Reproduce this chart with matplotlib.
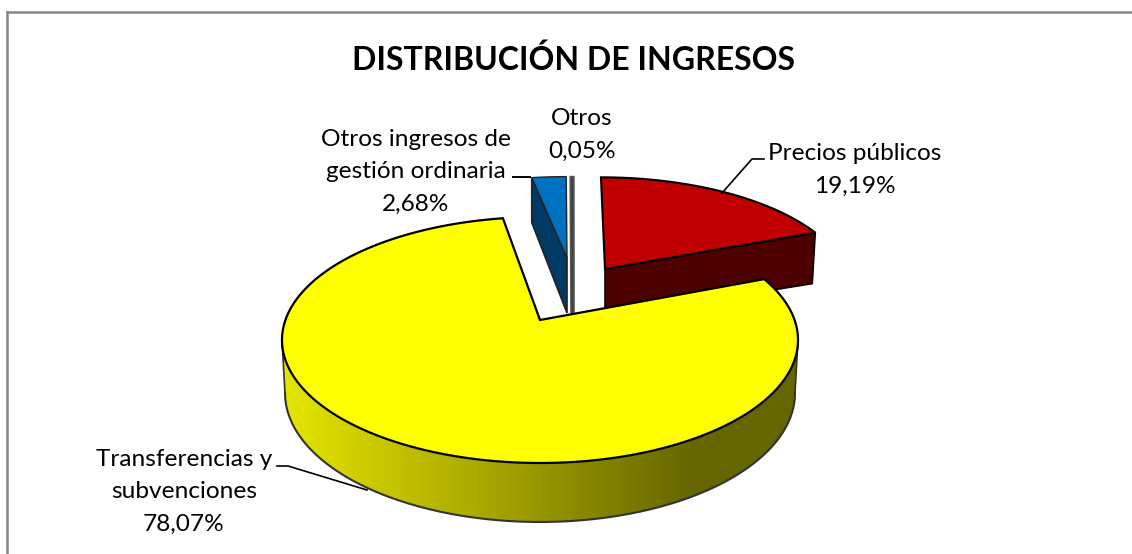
import numpy as np
import matplotlib
matplotlib.use("Agg")
import matplotlib.pyplot as plt
from matplotlib.colors import LinearSegmentedColormap
from matplotlib.patches import Polygon

plt.rcParams['font.family'] = ['Lato', 'DejaVu Sans']

title = "DISTRIBUCIÓN DE INGRESOS"
labels = ["Precios públicos", "Transferencias y\nsubvenciones",
          "Otros ingresos de\ngestión ordinaria", "Otros"]
shares = [19.19, 78.07, 2.68, 0.05]
topColors = ["#c00000", "#ffff00", "#0070c0", "#7f7f7f"]
sideColors = ["#4d0000", "#666600", "#003a66", "#404040"]

# pie geometry in pixels
centerX, centerY = 540, 340
radiusX, radiusY = 258, 123
apexY = 320
tilt = 0.477
sliceOffset = [(65, -51), (0, 0), (27, -62), (31, -62)]
sliceScale = [(0.945, 0.89), (1, 1), (0.95, 0.79), (0.92, 0.79)]
sliceLean = [0.044, 0, 0, 0]
sliceDepth = [48, 55, 55, 55]


def rimPoint(theta):
    # offset from the apex of the point where a ray at clock angle theta meets the ellipse
    t = np.radians(theta)
    a0 = (centerY - apexY) / radiusY
    dx = np.sin(t) / radiusX
    dy = tilt * np.cos(t) / radiusY
    a = dx * dx + dy * dy
    b = 2 * a0 * dy
    c = a0 * a0 - 1
    s = (-b + np.sqrt(b * b - 4 * a * c)) / (2 * a)
    return s * dx * radiusX, -s * dy * radiusY


def sliceTop(i, start, sweep):
    x0 = centerX + sliceOffset[i][0]
    y0 = apexY + sliceOffset[i][1]
    n = max(int(sweep) * 2, 4)
    points = [(x0, y0)]
    for theta in np.linspace(start, start + sweep, n):
        px, py = rimPoint(theta)
        py = py * sliceScale[i][1]
        points.append((x0 + px * sliceScale[i][0] + py * sliceLean[i], y0 + py))
    return np.array(points)


def yellowRim(ax):
    t = np.linspace(np.pi, 2 * np.pi, 200)
    upper = np.column_stack([centerX + radiusX * np.cos(t),
                             centerY - radiusY * np.sin(t)])
    lower = np.column_stack([centerX + (radiusX - 3) * np.cos(t[::-1]),
                             centerY + 53 - 129 * np.sin(t[::-1])])
    outline = np.vstack([upper, lower])
    cmap = LinearSegmentedColormap.from_list(
        "rim", [(0, "#e6e600"), (0.8, "#666600"), (1, "#666600")])
    gradient = np.linspace(0, 1, 256).reshape(1, -1)
    image = ax.imshow(gradient, cmap=cmap, aspect="auto", zorder=3,
                      extent=(centerX - radiusX, centerX + radiusX, 525, 330))
    patch = Polygon(outline, closed=True, transform=ax.transData,
                    facecolor="none", edgecolor="none")
    ax.add_patch(patch)
    image.set_clip_path(patch)
    ax.plot(lower[:, 0], lower[:, 1], color="#333333", lw=1.5, zorder=4)
    ax.plot([upper[0, 0], lower[-1, 0]], [upper[0, 1], lower[-1, 1]],
            color="#333333", lw=1.2, zorder=4)
    ax.plot([upper[-1, 0], lower[0, 0]], [upper[-1, 1], lower[0, 1]],
            color="#333333", lw=1.2, zorder=4)


def main():
    fig = plt.figure(figsize=(11.32, 5.54), dpi=100)
    ax = fig.add_axes([0, 0, 1, 1])
    ax.set_xlim(0, 1132)
    ax.set_ylim(554, 0)
    ax.axis("off")

    # chart frame, only top and left show in the crop
    ax.plot([7, 7], [554, 12], color="#868686", lw=1.8, zorder=1)
    ax.plot([7, 1132], [12, 12], color="#868686", lw=1.8, zorder=1)

    starts = np.cumsum([0] + shares[:-1]) * 3.6
    sweeps = np.array(shares) * 3.6

    # red slice with its cut face, the yellow one overlaps it
    red = sliceTop(0, starts[0], sweeps[0])
    d = sliceDepth[0]
    face = [red[0], red[-1], red[-1] + (-3, d + 3), red[0] + (0, d)]
    ax.add_patch(Polygon(face, facecolor=sideColors[0], edgecolor="black", lw=1.2, zorder=2))
    ax.add_patch(Polygon(red, facecolor=topColors[0], edgecolor="black", lw=1.5, zorder=2))

    # blue slice
    blue = sliceTop(2, starts[2], sweeps[2])
    d = sliceDepth[2]
    face = [blue[1], blue[1] + (0, 45), blue[0] + (0, d), blue[0]]
    ax.add_patch(Polygon(face, facecolor=sideColors[2], edgecolor="#222222", lw=1.2, zorder=2))
    ax.add_patch(Polygon(blue, facecolor=topColors[2], edgecolor="#222222", lw=1.0, zorder=2))

    # the very thin slice is only seen edge-on
    grey = sliceTop(3, starts[3], sweeps[3])
    d = sliceDepth[3]
    face = [grey[0] + (0, d), grey[1], grey[-1] + (3, 0), grey[0] + (3, d)]
    ax.add_patch(Polygon(face, facecolor=sideColors[3], edgecolor="#555555", lw=1.2, zorder=2))

    # yellow slice
    yellowRim(ax)
    yellow = sliceTop(1, starts[1], sweeps[1])
    ax.add_patch(Polygon(yellow, facecolor=topColors[1], edgecolor="black", lw=1.6, zorder=5))

    # labels
    ax.text(574, 60, title, fontsize=23, fontweight="bold", ha="center", va="center", color="black")
    values = [("%.2f%%" % v).replace(".", ",") for v in shares]
    textKw = dict(fontsize=17.6, ha="center", va="center", linespacing=1.68, color="black", zorder=6)
    ax.text(855, 170, labels[0] + "\n" + values[0], **textKw)
    ax.text(184, 492, labels[1] + "\n" + values[1], **textKw)
    ax.text(416, 172, labels[2] + "\n" + values[2], **textKw)
    ax.text(582, 135, labels[3] + "\n" + values[3], **textKw)

    # leader lines
    ax.plot([764, 752, 722], [159, 159, 193], color="black", lw=1.2, zorder=6)
    ax.plot([513, 530], [177, 177], color="black", lw=1.4, zorder=6)
    ax.plot([277, 288, 367], [466, 466, 490], color="black", lw=1.2, zorder=2)

    fig.savefig("out.png", dpi=100)


if __name__ == '__main__':
    main()
